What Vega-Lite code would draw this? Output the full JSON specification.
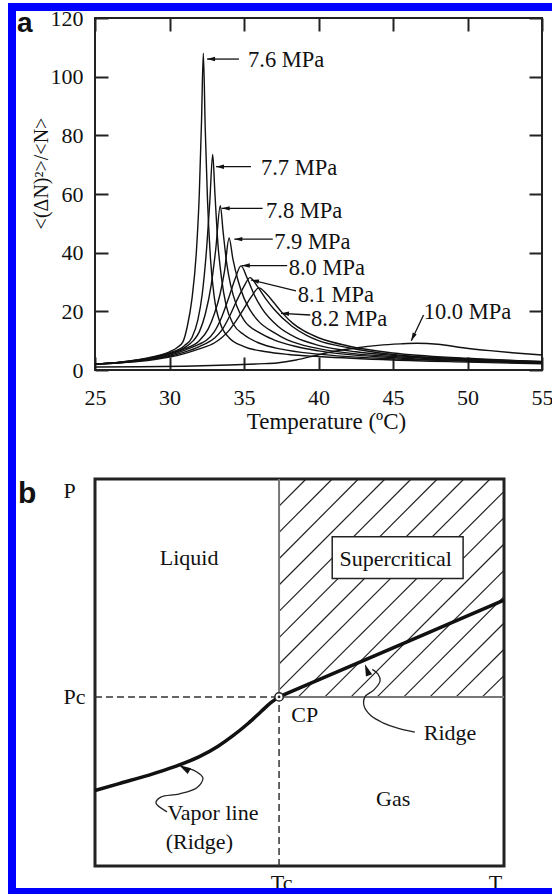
{
 "$schema": "https://vega.github.io/schema/vega-lite/v6.json",
 "padding": {"left": 8, "top": 3, "right": 0, "bottom": 0},
 "background": "white",
 "columns": 2,
 "spacing": 0,
 "bounds": "flush",
 "align": "each",
 "config": {
  "view": {"stroke": null},
  "axis": {"grid": false, "domain": false, "labelFont": "Liberation Serif", "titleFont": "Liberation Serif", "labelColor": "#111", "titleColor": "#111", "tickColor": "#222", "titleFontWeight": "normal", "labelFlush": false, "labelOverlap": false, "labelBound": false},
  "text": {"font": "Liberation Serif", "color": "#111"}
 },
 "datasets": {
  "curves": [
   {"p":"7.6","T":25,"v":2.0},{"p":"7.6","T":26.5,"v":2.6},{"p":"7.6","T":28,"v":3.6},{"p":"7.6","T":29,"v":4.6},{"p":"7.6","T":30,"v":6.2},{"p":"7.6","T":30.5,"v":7.6},{"p":"7.6","T":30.9,"v":9.6},{"p":"7.6","T":31.2,"v":15},{"p":"7.6","T":31.5,"v":24},{"p":"7.6","T":31.8,"v":40},{"p":"7.6","T":32.0,"v":60},{"p":"7.6","T":32.15,"v":85},{"p":"7.6","T":32.27,"v":108},{"p":"7.6","T":32.4,"v":82},{"p":"7.6","T":32.55,"v":58},{"p":"7.6","T":32.75,"v":38},{"p":"7.6","T":33.0,"v":25},{"p":"7.6","T":33.4,"v":16},{"p":"7.6","T":34,"v":11},{"p":"7.6","T":35,"v":8},{"p":"7.6","T":36.5,"v":6.2},{"p":"7.6","T":38,"v":5.3},{"p":"7.6","T":40,"v":4.6},{"p":"7.6","T":45,"v":3.4},{"p":"7.6","T":50,"v":2.7},{"p":"7.6","T":55,"v":2.1},
   {"p":"7.7","T":25,"v":2.0},{"p":"7.7","T":26.5,"v":2.6},{"p":"7.7","T":28,"v":3.5},{"p":"7.7","T":29,"v":4.4},{"p":"7.7","T":30,"v":5.8},{"p":"7.7","T":31,"v":8.3},{"p":"7.7","T":31.5,"v":11},{"p":"7.7","T":31.9,"v":17},{"p":"7.7","T":32.2,"v":26},{"p":"7.7","T":32.5,"v":42},{"p":"7.7","T":32.7,"v":57},{"p":"7.7","T":32.9,"v":73.5},{"p":"7.7","T":33.05,"v":60},{"p":"7.7","T":33.25,"v":43},{"p":"7.7","T":33.5,"v":31},{"p":"7.7","T":33.8,"v":22},{"p":"7.7","T":34.3,"v":15.5},{"p":"7.7","T":35,"v":12},{"p":"7.7","T":36,"v":9.2},{"p":"7.7","T":37.5,"v":7.1},{"p":"7.7","T":40,"v":5.4},{"p":"7.7","T":45,"v":3.8},{"p":"7.7","T":50,"v":3.0},{"p":"7.7","T":55,"v":2.3},
   {"p":"7.8","T":25,"v":2.0},{"p":"7.8","T":26.5,"v":2.5},{"p":"7.8","T":28,"v":3.4},{"p":"7.8","T":29,"v":4.3},{"p":"7.8","T":30,"v":5.5},{"p":"7.8","T":31,"v":7.6},{"p":"7.8","T":31.6,"v":10},{"p":"7.8","T":32,"v":13},{"p":"7.8","T":32.4,"v":19},{"p":"7.8","T":32.8,"v":29},{"p":"7.8","T":33.1,"v":41},{"p":"7.8","T":33.41,"v":56},{"p":"7.8","T":33.6,"v":47},{"p":"7.8","T":33.85,"v":36},{"p":"7.8","T":34.1,"v":29},{"p":"7.8","T":34.5,"v":22},{"p":"7.8","T":35,"v":17},{"p":"7.8","T":36,"v":12.8},{"p":"7.8","T":37,"v":10.3},{"p":"7.8","T":38.5,"v":8},{"p":"7.8","T":40,"v":6.5},{"p":"7.8","T":45,"v":4.2},{"p":"7.8","T":50,"v":3.2},{"p":"7.8","T":55,"v":2.4},
   {"p":"7.9","T":25,"v":2.0},{"p":"7.9","T":26.5,"v":2.5},{"p":"7.9","T":28,"v":3.3},{"p":"7.9","T":29,"v":4.1},{"p":"7.9","T":30,"v":5.3},{"p":"7.9","T":31,"v":7.2},{"p":"7.9","T":32,"v":10},{"p":"7.9","T":32.6,"v":14},{"p":"7.9","T":33,"v":19},{"p":"7.9","T":33.4,"v":26},{"p":"7.9","T":33.7,"v":34},{"p":"7.9","T":34.0,"v":45},{"p":"7.9","T":34.25,"v":38},{"p":"7.9","T":34.6,"v":30.5},{"p":"7.9","T":35,"v":24.5},{"p":"7.9","T":35.4,"v":20.5},{"p":"7.9","T":36,"v":16.5},{"p":"7.9","T":37,"v":12.8},{"p":"7.9","T":37.8,"v":10.5},{"p":"7.9","T":39,"v":8.4},{"p":"7.9","T":40,"v":7.3},{"p":"7.9","T":42.5,"v":5.5},{"p":"7.9","T":45,"v":4.6},{"p":"7.9","T":50,"v":3.4},{"p":"7.9","T":55,"v":2.6},
   {"p":"8.0","T":25,"v":2.0},{"p":"8.0","T":26.5,"v":2.4},{"p":"8.0","T":28,"v":3.2},{"p":"8.0","T":29,"v":3.9},{"p":"8.0","T":30,"v":5.0},{"p":"8.0","T":31,"v":6.7},{"p":"8.0","T":32,"v":8.8},{"p":"8.0","T":32.5,"v":10.2},{"p":"8.0","T":33,"v":13},{"p":"8.0","T":33.5,"v":18},{"p":"8.0","T":34,"v":25},{"p":"8.0","T":34.4,"v":31},{"p":"8.0","T":34.8,"v":35.5},{"p":"8.0","T":35.2,"v":31.5},{"p":"8.0","T":35.7,"v":25.5},{"p":"8.0","T":36.2,"v":21},{"p":"8.0","T":37.3,"v":14.8},{"p":"8.0","T":38.5,"v":11},{"p":"8.0","T":40,"v":8.4},{"p":"8.0","T":42.5,"v":6.2},{"p":"8.0","T":45,"v":5.0},{"p":"8.0","T":50,"v":3.6},{"p":"8.0","T":55,"v":2.7},
   {"p":"8.1","T":25,"v":2.0},{"p":"8.1","T":26.5,"v":2.4},{"p":"8.1","T":28,"v":3.1},{"p":"8.1","T":29,"v":3.8},{"p":"8.1","T":30,"v":4.7},{"p":"8.1","T":31,"v":6.1},{"p":"8.1","T":32,"v":8},{"p":"8.1","T":33,"v":10.8},{"p":"8.1","T":33.5,"v":13.5},{"p":"8.1","T":34,"v":18},{"p":"8.1","T":34.5,"v":23.5},{"p":"8.1","T":35,"v":28.5},{"p":"8.1","T":35.4,"v":31.5},{"p":"8.1","T":35.9,"v":28.5},{"p":"8.1","T":36.5,"v":24},{"p":"8.1","T":37,"v":20.8},{"p":"8.1","T":38.2,"v":15},{"p":"8.1","T":39.2,"v":11.8},{"p":"8.1","T":40,"v":10},{"p":"8.1","T":42,"v":7.6},{"p":"8.1","T":45,"v":5.3},{"p":"8.1","T":50,"v":3.8},{"p":"8.1","T":55,"v":2.8},
   {"p":"8.2","T":25,"v":2.0},{"p":"8.2","T":26.5,"v":2.4},{"p":"8.2","T":28,"v":3.0},{"p":"8.2","T":29,"v":3.6},{"p":"8.2","T":30,"v":4.4},{"p":"8.2","T":31,"v":5.6},{"p":"8.2","T":32,"v":7.2},{"p":"8.2","T":33,"v":9.2},{"p":"8.2","T":33.5,"v":11},{"p":"8.2","T":34,"v":13.5},{"p":"8.2","T":34.5,"v":17},{"p":"8.2","T":35,"v":21},{"p":"8.2","T":35.5,"v":25},{"p":"8.2","T":36,"v":28},{"p":"8.2","T":36.5,"v":26},{"p":"8.2","T":37,"v":23},{"p":"8.2","T":37.6,"v":19.3},{"p":"8.2","T":38.3,"v":15.8},{"p":"8.2","T":39,"v":13.4},{"p":"8.2","T":40,"v":11},{"p":"8.2","T":42,"v":8.2},{"p":"8.2","T":45,"v":5.8},{"p":"8.2","T":50,"v":4.0},{"p":"8.2","T":55,"v":2.9},
   {"p":"10.0","T":25,"v":1.0},{"p":"10.0","T":28,"v":1.1},{"p":"10.0","T":31,"v":1.3},{"p":"10.0","T":34,"v":1.7},{"p":"10.0","T":36,"v":2.1},{"p":"10.0","T":37.2,"v":2.4},{"p":"10.0","T":38.5,"v":3.4},{"p":"10.0","T":40,"v":5.2},{"p":"10.0","T":41,"v":6.3},{"p":"10.0","T":42.5,"v":7.5},{"p":"10.0","T":44,"v":8.4},{"p":"10.0","T":45.5,"v":8.9},{"p":"10.0","T":46.6,"v":9.1},{"p":"10.0","T":48,"v":8.8},{"p":"10.0","T":49.7,"v":7.6},{"p":"10.0","T":51.5,"v":6.6},{"p":"10.0","T":53,"v":5.9},{"p":"10.0","T":55,"v":5.1}
  ],
  "arrowsA": [
   {"T":34.66,"v":106.0,"T2":32.52,"v2":106.0,"hT":32.79,"hv":106.0,"dir":0},
   {"T":35.47,"v":69.3,"T2":33.12,"v2":69.3,"hT":33.39,"hv":69.3,"dir":0},
   {"T":36.25,"v":55.1,"T2":33.5,"v2":55.1,"hT":33.77,"hv":55.1,"dir":0},
   {"T":36.93,"v":44.6,"T2":34.35,"v2":44.6,"hT":34.62,"hv":44.6,"dir":0},
   {"T":37.9,"v":35.6,"T2":34.85,"v2":35.6,"hT":35.12,"hv":35.6,"dir":0},
   {"T":38.49,"v":27.0,"T2":35.47,"v2":30.7,"hT":35.73,"hv":30.4,"dir":13},
   {"T":39.45,"v":18.75,"T2":37.48,"v2":19.3,"hT":37.75,"hv":19.25,"dir":3},
   {"T":47.05,"v":18.75,"T2":46.23,"v2":10.0,"hT":46.34,"hv":11.2,"dir":-64}
  ],
  "labelsA": [
   {"label":"7.6 MPa","T":35.27,"v":105.7},
   {"label":"7.7 MPa","T":36.14,"v":68.9},
   {"label":"7.8 MPa","T":36.48,"v":54.2},
   {"label":"7.9 MPa","T":37.03,"v":43.8},
   {"label":"8.0 MPa","T":38.0,"v":34.8},
   {"label":"8.1 MPa","T":38.6,"v":25.6},
   {"label":"8.2 MPa","T":39.5,"v":17.4},
   {"label":"10.0 MPa","T":47.06,"v":19.9}
  ],
  "tagA": [{"t":"a","T":19.77,"v":115.2}],
  "tagB": [{"t":"b","x":-18.8,"y":93.8}],
  "hatch": [
   {"x":45.0,"y":93.0,"x2":51.6,"y2":100},{"x":45.0,"y":86.2,"x2":58.0,"y2":100},{"x":45.0,"y":79.4,"x2":64.4,"y2":100},{"x":45.0,"y":72.6,"x2":70.9,"y2":100},{"x":45.0,"y":65.8,"x2":77.3,"y2":100},{"x":45.0,"y":59.0,"x2":83.7,"y2":100},{"x":45.0,"y":52.2,"x2":90.2,"y2":100},{"x":45.0,"y":45.5,"x2":96.6,"y2":100},
   {"x":49.7,"y":43.7,"x2":100,"y2":96.8},{"x":56.2,"y":43.7,"x2":100,"y2":90.0},{"x":62.6,"y":43.7,"x2":100,"y2":83.2},{"x":69.0,"y":43.7,"x2":100,"y2":76.4},{"x":75.5,"y":43.7,"x2":100,"y2":69.6},{"x":81.9,"y":43.7,"x2":100,"y2":62.8},{"x":88.3,"y":43.7,"x2":100,"y2":56.0},{"x":94.7,"y":43.7,"x2":100,"y2":49.2}
  ],
  "solidB": [
   {"x":45,"y":43.7,"x2":45,"y2":100},{"x":45,"y":43.7,"x2":100,"y2":43.7}
  ],
  "box": [{"x":58.0,"y":74.3,"x2":90.0,"y2":85.1}],
  "dashed": [
   {"x":0,"y":43.7,"x2":45,"y2":43.7},{"x":45,"y":0,"x2":45,"y2":43.7}
  ],
  "thick": [
   {"g":"vapor","i":0,"x":0,"y":19.5},{"g":"vapor","i":1,"x":5.9,"y":21.3},{"g":"vapor","i":2,"x":13.2,"y":23.5},{"g":"vapor","i":3,"x":19.3,"y":25.6},{"g":"vapor","i":4,"x":25.4,"y":28.2},{"g":"vapor","i":5,"x":30,"y":30.9},{"g":"vapor","i":6,"x":33.5,"y":33.5},{"g":"vapor","i":7,"x":37.5,"y":36.9},{"g":"vapor","i":8,"x":40.5,"y":39.8},{"g":"vapor","i":9,"x":43,"y":42.2},{"g":"vapor","i":10,"x":45,"y":43.7},
   {"g":"ridge","i":0,"x":45,"y":43.7},{"g":"ridge","i":1,"x":74.3,"y":57.0},{"g":"ridge","i":2,"x":100,"y":68.7}
  ],
  "callouts": [
   {"g":"r","i":0,"x":78.2,"y":34.6},{"g":"r","i":1,"x":73.8,"y":35.7},{"g":"r","i":2,"x":70.4,"y":37.0},{"g":"r","i":3,"x":67.5,"y":38.8},{"g":"r","i":4,"x":65.8,"y":41.3},{"g":"r","i":5,"x":66.0,"y":43.7},{"g":"r","i":6,"x":68.2,"y":45.5},{"g":"r","i":7,"x":69.7,"y":47.8},{"g":"r","i":8,"x":69.2,"y":49.6},{"g":"r","i":9,"x":67.8,"y":50.8},
   {"g":"v","i":0,"x":17.6,"y":14.0},{"g":"v","i":1,"x":14.9,"y":16.3},{"g":"v","i":2,"x":16.1,"y":17.8},{"g":"v","i":3,"x":20.5,"y":18.6},{"g":"v","i":4,"x":24.9,"y":20.2},{"g":"v","i":5,"x":26.4,"y":22.7},{"g":"v","i":6,"x":24.9,"y":24.3},{"g":"v","i":7,"x":22.8,"y":25.2}
  ],
  "headsB": [{"x":66.5,"y":50.7,"dir":70},{"x":21.8,"y":25.3,"dir":30}],
  "cp": [{"x":45,"y":43.7}],
  "textC": [
   {"t":"Liquid","x":23.0,"y":79.5},{"t":"Supercritical","x":73.5,"y":79.2},{"t":"Gas","x":72.9,"y":17.3},{"t":"CP","x":51.3,"y":39.1},{"t":"Ridge","x":86.8,"y":34.4}
  ],
  "textL": [
   {"t":"Vapor line","x":17.7,"y":13.7},{"t":"(Ridge)","x":17.3,"y":6.3}
  ]
 },
 "concat": [
  {"width": 87, "height": 8, "data": {"values": [{}]}, "mark": {"type": "point", "opacity": 0}, "view": {"fill": "#0000ff", "stroke": null}},
  {"width": 457, "height": 8, "data": {"values": [{}]}, "mark": {"type": "point", "opacity": 0}, "view": {"fill": "#0000ff", "stroke": null}},
  {"width": 8, "height": 7, "data": {"values": [{}]}, "mark": {"type": "point", "opacity": 0}, "view": {"fill": "#0000ff", "stroke": null}},
  {"width": 1, "height": 7, "data": {"values": [{}]}, "mark": {"type": "point", "opacity": 0}},
  {"width": 8, "height": 352, "data": {"values": [{}]}, "mark": {"type": "point", "opacity": 0}, "view": {"fill": "#0000ff", "stroke": null}},
  {
   "width": 447, "height": 352,
   "view": {"stroke": "#222", "strokeWidth": 2},
   "resolve": {"axis": {"x": "independent", "y": "independent"}},
   "layer": [
    {"data": {"name": "curves"}, "mark": {"type": "line", "color": "#111", "strokeWidth": 1.4, "interpolate": "monotone"},
     "encoding": {
      "x": {"field": "T", "type": "quantitative", "scale": {"domain": [25, 55], "nice": false, "zero": false},
            "axis": {"orient": "bottom", "values": [25,30,35,40,45,50,55], "tickSize": -13, "tickWidth": 2, "labelFontSize": 22, "labelPadding": 30, "title": "Temperature (ºC)", "titleFontSize": 23, "titleX": 231, "titleY": 40}},
      "y": {"field": "v", "type": "quantitative", "scale": {"domain": [0, 120], "nice": false, "zero": false},
            "axis": {"orient": "left", "values": [0,20,40,60,80,100,120], "tickSize": -13, "tickWidth": 2, "labelFontSize": 22, "labelPadding": 25, "title": "<(ΔN)²>/<N>", "titleFontSize": 20, "titleX": -44, "titleY": 155}},
      "detail": {"field": "p", "type": "nominal"}
     }},
    {"data": {"name": "arrowsA"}, "mark": {"type": "rule", "color": "#111", "strokeWidth": 1.3},
     "encoding": {
      "x": {"field": "T", "type": "quantitative", "scale": {"domain": [25, 55], "nice": false, "zero": false},
            "axis": {"orient": "top", "values": [25,30,35,40,45,50,55], "tickSize": -13, "tickWidth": 2, "labels": false, "title": null}},
      "y": {"field": "v", "type": "quantitative", "scale": {"domain": [0, 120], "nice": false, "zero": false},
            "axis": {"orient": "right", "values": [0,20,40,60,80,100,120], "tickSize": -13, "tickWidth": 2, "labels": false, "title": null}},
      "x2": {"field": "T2"},
      "y2": {"field": "v2"}
     }},
    {"data": {"name": "arrowsA"}, "mark": {"type": "point", "shape": "M-1,0L1,-0.55L1,0.55Z", "filled": true, "color": "#111", "size": 64, "opacity": 1},
     "encoding": {
      "x": {"field": "hT", "type": "quantitative", "scale": {"domain": [25, 55], "nice": false, "zero": false}, "axis": null},
      "y": {"field": "hv", "type": "quantitative", "scale": {"domain": [0, 120], "nice": false, "zero": false}, "axis": null},
      "angle": {"field": "dir", "type": "quantitative", "scale": null}
     }},
    {"data": {"name": "labelsA"}, "mark": {"type": "text", "align": "left", "baseline": "middle", "fontSize": 22.5, "font": "Liberation Serif", "color": "#111"},
     "encoding": {
      "x": {"field": "T", "type": "quantitative", "scale": {"domain": [25, 55], "nice": false, "zero": false}, "axis": null},
      "y": {"field": "v", "type": "quantitative", "scale": {"domain": [0, 120], "nice": false, "zero": false}, "axis": null},
      "text": {"field": "label"}
     }},
    {"data": {"name": "tagA"}, "mark": {"type": "text", "align": "left", "baseline": "alphabetic", "fontSize": 28, "font": "Liberation Sans", "fontWeight": "bold", "color": "#111"},
     "encoding": {
      "x": {"field": "T", "type": "quantitative", "scale": {"domain": [25, 55], "nice": false, "zero": false}, "axis": null},
      "y": {"field": "v", "type": "quantitative", "scale": {"domain": [0, 120], "nice": false, "zero": false}, "axis": null},
      "text": {"field": "t"}
     }}
   ]
  },
  {"width": 8, "height": 109, "data": {"values": [{}]}, "mark": {"type": "point", "opacity": 0}, "view": {"fill": "#0000ff", "stroke": null}},
  {"width": 1, "height": 109, "data": {"values": [{}]}, "mark": {"type": "point", "opacity": 0}},
  {"width": 8, "height": 387, "data": {"values": [{}]}, "mark": {"type": "point", "opacity": 0}, "view": {"fill": "#0000ff", "stroke": null}},
  {
   "width": 409, "height": 387,
   "view": {"stroke": "#222", "strokeWidth": 3},
   "encoding": {
    "x": {"field": "x", "type": "quantitative", "scale": {"domain": [0, 100], "nice": false, "zero": false},
          "axis": {"values": [45.5, 97.8], "labelExpr": "datum.value < 70 ? 'Tc' : 'T'", "ticks": false, "domain": false, "labelFontSize": 22, "labelPadding": 6, "title": null}},
    "y": {"field": "y", "type": "quantitative", "scale": {"domain": [0, 100], "nice": false, "zero": false},
          "axis": {"values": [43.7, 97.0], "labelExpr": "datum.value < 70 ? 'Pc' : 'P'", "ticks": false, "domain": false, "labelFontSize": 22, "labelPadding": 32, "labelAlign": "left", "title": null}}
   },
   "layer": [
    {"data": {"name": "hatch"}, "mark": {"type": "rule", "color": "#222", "strokeWidth": 1.2}, "encoding": {"x2": {"field": "x2"}, "y2": {"field": "y2"}}},
    {"data": {"name": "solidB"}, "mark": {"type": "rule", "color": "#777", "strokeWidth": 2}, "encoding": {"x2": {"field": "x2"}, "y2": {"field": "y2"}}},
    {"data": {"name": "box"}, "mark": {"type": "rect", "fill": "white", "stroke": "#222", "strokeWidth": 1.5}, "encoding": {"x2": {"field": "x2"}, "y2": {"field": "y2"}}},
    {"data": {"name": "dashed"}, "mark": {"type": "rule", "color": "#333", "strokeWidth": 1.5, "strokeDash": [7, 4]}, "encoding": {"x2": {"field": "x2"}, "y2": {"field": "y2"}}},
    {"data": {"name": "thick"}, "mark": {"type": "line", "color": "#111", "strokeWidth": 3.5, "interpolate": "monotone"}, "encoding": {"detail": {"field": "g", "type": "nominal"}, "order": {"field": "i", "type": "quantitative"}}},
    {"data": {"name": "callouts"}, "mark": {"type": "line", "color": "#222", "strokeWidth": 1.3, "interpolate": "catmull-rom"}, "encoding": {"detail": {"field": "g", "type": "nominal"}, "order": {"field": "i", "type": "quantitative"}}},
    {"data": {"name": "headsB"}, "mark": {"type": "point", "shape": "M-1,0L1,-0.55L1,0.55Z", "filled": true, "color": "#111", "size": 144, "opacity": 1}, "encoding": {"angle": {"field": "dir", "type": "quantitative", "scale": null}}},
    {"data": {"name": "cp"}, "mark": {"type": "point", "shape": "circle", "filled": true, "fill": "white", "stroke": "#222", "strokeWidth": 1.5, "size": 70, "opacity": 1}},
    {"data": {"name": "cp"}, "mark": {"type": "point", "shape": "circle", "filled": true, "color": "#222", "size": 8, "opacity": 1}},
    {"data": {"name": "textC"}, "mark": {"type": "text", "align": "center", "baseline": "middle", "fontSize": 22, "font": "Liberation Serif", "color": "#111"}, "encoding": {"text": {"field": "t"}}},
    {"data": {"name": "textL"}, "mark": {"type": "text", "align": "left", "baseline": "middle", "fontSize": 22, "font": "Liberation Serif", "color": "#111"}, "encoding": {"text": {"field": "t"}}},
    {"data": {"name": "tagB"}, "mark": {"type": "text", "align": "left", "baseline": "alphabetic", "fontSize": 30, "font": "Liberation Sans", "fontWeight": "bold", "color": "#111"}, "encoding": {"text": {"field": "t"}}}
   ]
  },
  {"width": 8, "height": 22, "data": {"values": [{}]}, "mark": {"type": "point", "opacity": 0}, "view": {"fill": "#0000ff", "stroke": null}},
  {"width": 1, "height": 22, "data": {"values": [{}]}, "mark": {"type": "point", "opacity": 0}},
  {"width": 87, "height": 6, "data": {"values": [{}]}, "mark": {"type": "point", "opacity": 0}, "view": {"fill": "#0000ff", "stroke": null}},
  {"width": 457, "height": 6, "data": {"values": [{}]}, "mark": {"type": "point", "opacity": 0}, "view": {"fill": "#0000ff", "stroke": null}}
 ]
}
